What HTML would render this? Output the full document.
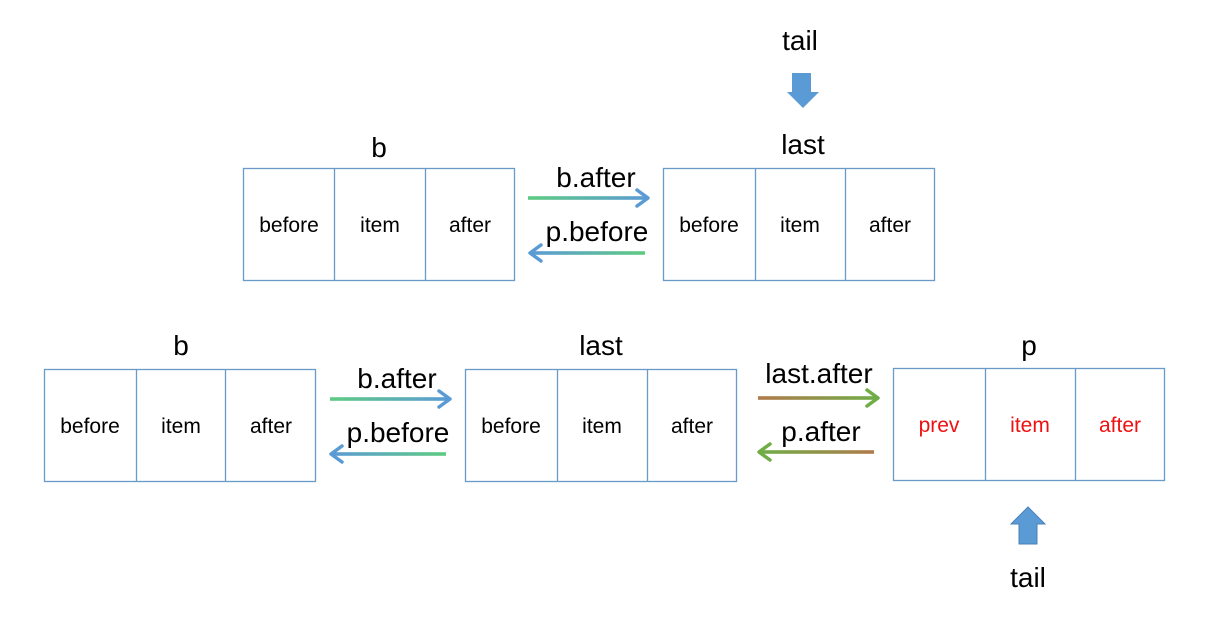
<!DOCTYPE html>
<html><head><meta charset="utf-8"><style>
html,body{margin:0;padding:0;background:#fff;}
svg{display:block;font-family:"Liberation Sans",sans-serif;}
</style></head><body>
<svg width="1220" height="626" viewBox="0 0 1220 626" xmlns="http://www.w3.org/2000/svg">
<defs>
<linearGradient id="gb" x1="0" x2="1" y1="0" y2="0"><stop offset="0" stop-color="#5ecb82"/><stop offset="1" stop-color="#5b9bd5"/></linearGradient>
<linearGradient id="gbr" x1="1" x2="0" y1="0" y2="0"><stop offset="0" stop-color="#5ecb82"/><stop offset="1" stop-color="#5b9bd5"/></linearGradient>
<linearGradient id="go" x1="0" x2="1" y1="0" y2="0"><stop offset="0" stop-color="#b07a4a"/><stop offset="1" stop-color="#70ad47"/></linearGradient>
<linearGradient id="gor" x1="1" x2="0" y1="0" y2="0"><stop offset="0" stop-color="#b07a4a"/><stop offset="1" stop-color="#70ad47"/></linearGradient>
</defs>
<g fill="#fff" stroke="#6a9ac8" stroke-width="1.3">
<rect x="243.5" y="168.5" width="271" height="112"/><line x1="334.5" y1="168" x2="334.5" y2="281"/><line x1="425.5" y1="168" x2="425.5" y2="281"/>
<rect x="663.5" y="168.5" width="271" height="112"/><line x1="755.5" y1="168" x2="755.5" y2="281"/><line x1="845.5" y1="168" x2="845.5" y2="281"/>
<rect x="44.5" y="369.5" width="271" height="112"/><line x1="136.5" y1="369" x2="136.5" y2="482"/><line x1="225.5" y1="369" x2="225.5" y2="482"/>
<rect x="465.5" y="369.5" width="271" height="112"/><line x1="557.5" y1="369" x2="557.5" y2="482"/><line x1="647.5" y1="369" x2="647.5" y2="482"/>
<rect x="893.5" y="368.5" width="271" height="112"/><line x1="985.5" y1="368" x2="985.5" y2="481"/><line x1="1075.5" y1="368" x2="1075.5" y2="481"/>
</g>
<g font-size="21" text-anchor="middle" fill="#000">
<text x="289" y="232">before</text><text x="380" y="232">item</text><text x="470" y="232">after</text>
<text x="709" y="232">before</text><text x="800" y="232">item</text><text x="890" y="232">after</text>
<text x="90" y="433">before</text><text x="181" y="433">item</text><text x="271" y="433">after</text>
<text x="511" y="433">before</text><text x="602" y="433">item</text><text x="692" y="433">after</text>
<g fill="#ee1111"><text x="939" y="432">prev</text><text x="1030" y="432">item</text><text x="1120" y="432">after</text></g>
</g>
<g font-size="28" text-anchor="middle" fill="#000">
<text x="379" y="157">b</text><text x="803" y="154">last</text><text x="800" y="50">tail</text>
<text x="181" y="355">b</text><text x="601" y="355">last</text><text x="1029" y="355">p</text>
<text x="1028" y="587">tail</text>
<text x="596" y="187">b.after</text><text x="597" y="241">p.before</text>
<text x="397" y="388">b.after</text><text x="398" y="442">p.before</text>
<text x="819" y="383">last.after</text><text x="821" y="441">p.after</text>
</g>
<g stroke="none">
<rect x="528" y="196.2" width="118" height="3.6" fill="url(#gb)"/>
<rect x="532" y="251.2" width="113" height="3.6" fill="url(#gbr)"/>
<rect x="330" y="397.2" width="118" height="3.6" fill="url(#gb)"/>
<rect x="333" y="452.2" width="113" height="3.6" fill="url(#gbr)"/>
<rect x="758" y="396.2" width="118" height="3.6" fill="url(#go)"/>
<rect x="761" y="450.2" width="113" height="3.6" fill="url(#gor)"/>
</g>
<g stroke-width="3.5" fill="none" stroke-linecap="round" stroke-linejoin="round">
<polyline points="637,190 648,198 637,206" stroke="#5b9bd5"/>
<polyline points="541,245 530,253 541,261" stroke="#5b9bd5"/>
<polyline points="439,391 450,399 439,407" stroke="#5b9bd5"/>
<polyline points="342,446 331,454 342,462" stroke="#5b9bd5"/>
<polyline points="867,390 878,398 867,406" stroke="#70ad47"/>
<polyline points="770,444 759,452 770,460" stroke="#70ad47"/>
</g>
<polygon points="792,73 811,73 811,92 819,92 803,108 787,92 792,92" fill="#5b9bd5"/>
<polygon points="1028,507 1045,524 1037,524 1037,544 1019,544 1019,524 1011,524" fill="#5b9bd5" stroke="#4a80b8" stroke-width="1"/>
</svg>
</body></html>
